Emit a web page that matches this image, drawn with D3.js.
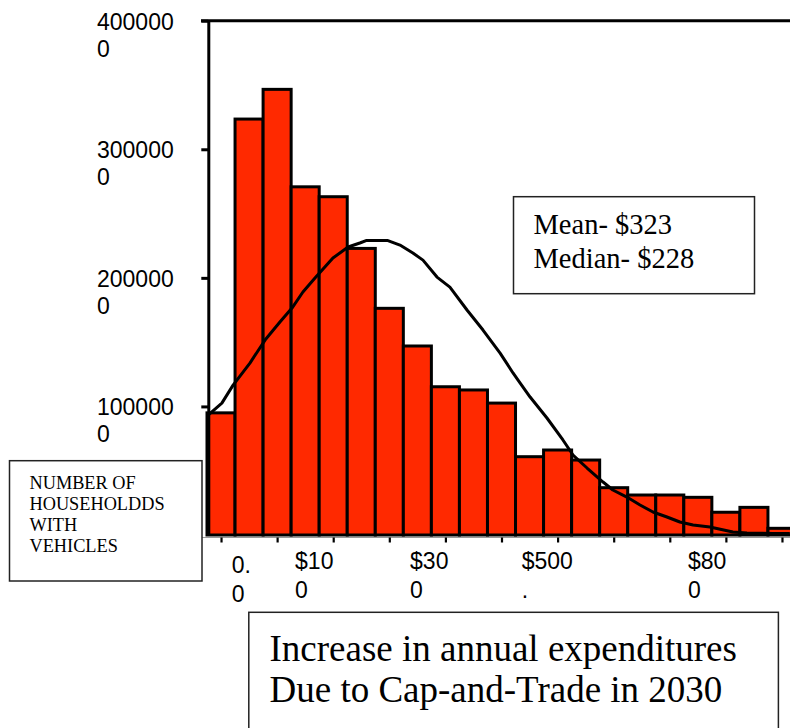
<!DOCTYPE html>
<html><head><meta charset="utf-8">
<script src="https://cdn.jsdelivr.net/npm/d3@7"></script>
<style>body{margin:0;background:#fff}svg{display:block;background:#fff}</style>
</head><body>
<svg id="c" width="790" height="728"></svg>
<script>
// ---- data ----
const households = [950000, 3235000, 3466000, 2708000, 2631000, 2229000, 1763000, 1470000, 1153000, 1128000, 1026000, 609000, 661000, 583000, 368000, 311000, 311000, 293000, 177000, 215000, 52000];
const curveX = [0.04, 0.53, 0.93, 1.53, 2.07, 2.60, 3.03, 3.42, 3.85, 4.49, 5.03, 5.45, 5.67, 6.45, 6.88, 7.34, 7.70, 8.20, 8.66, 9.27, 9.84, 10.45, 10.91, 11.09, 11.52, 12.12, 12.69, 13.05, 13.55, 14.12, 14.47, 14.97, 15.44, 15.90, 16.40, 16.86, 17.33, 17.93, 18.75, 19.25, 20.18, 20.78];
const curveY = [933000, 1026000, 1166000, 1337000, 1516000, 1656000, 1765000, 1890000, 1998000, 2154000, 2240000, 2271000, 2290000, 2290000, 2255000, 2193000, 2138000, 2006000, 1928000, 1750000, 1594000, 1415000, 1260000, 1205000, 1073000, 910000, 739000, 622000, 521000, 412000, 350000, 295000, 233000, 179000, 140000, 101000, 78000, 62000, 23000, 16000, 12000, 12000];
const yTicks = [1000000, 2000000, 3000000, 4000000];
const yTickLabels = [["100000", "0"], ["200000", "0"], ["300000", "0"], ["400000", "0"]];
const xTicks = [0.5, 2.5, 4.5, 6.5, 8.5, 10.5, 12.5, 14.5, 16.5, 18.5, 20.5];
const xLabelPos = [0.88, 3.14, 7.24, 11.22, 17.15];
const xLabels = [["0.", "0"], ["$10", "0"], ["$30", "0"], ["$500", "."], ["$80", "0"]];
const statsLines = ["Mean- $323", "Median- $228"];
const yTitleLines = ["NUMBER OF", "HOUSEHOLDDS", "WITH", "VEHICLES"];
const xTitleLines = ["Increase in annual expenditures", "Due to Cap-and-Trade in 2030"];

// ---- scales ----
const svg = d3.select("#c");
const x = d3.scaleLinear().domain([0, 21]).range([207, 796]);
const y = d3.scaleLinear().domain([0, 4000000]).range([535, 20.7]);
const sans = "'Liberation Sans', Arial, sans-serif";
const serif = "'Liberation Serif', 'Times New Roman', serif";

// bars
svg.append("g").selectAll("rect").data(households).join("rect")
  .attr("x", (d, i) => x(i))
  .attr("width", (d, i) => x(i + 1) - x(i))
  .attr("y", d => y(d))
  .attr("height", d => y(0) - y(d))
  .attr("fill", "#ff2900")
  .attr("stroke", "#000")
  .attr("stroke-width", 3);

// curve
const pts = curveX.map((v, i) => [v, curveY[i]]);
svg.append("path").datum(pts)
  .attr("fill", "none").attr("stroke", "#000").attr("stroke-width", 3)
  .attr("stroke-linejoin", "round")
  .attr("d", d3.line().x(d => x(d[0])).y(d => y(d[1])));

// x axis
const xa = svg.append("g").attr("transform", "translate(0,537.5)")
  .call(d3.axisBottom(x).tickValues(xTicks).tickSize(5).tickSizeOuter(0).tickFormat(""));
xa.select(".domain").attr("stroke", "#999").attr("stroke-width", 1);
xa.selectAll(".tick line").attr("stroke", "#000").attr("stroke-width", 2.2);
xa.select(".domain").attr("d", "M200,0H790");

// y axis
const ya = svg.append("g").attr("transform", "translate(208.3,0)")
  .call(d3.axisLeft(y).tickValues(yTicks).tickSize(7).tickSizeOuter(0).tickFormat(""));
ya.selectAll("path,line").attr("stroke", "#000").attr("stroke-width", 3);

// top line
svg.append("line").attr("x1", 201).attr("x2", 790).attr("y1", y(4000000)).attr("y2", y(4000000))
  .attr("stroke", "#000").attr("stroke-width", 3);

// y tick labels
yTicks.forEach((t, i) => {
  const tx = svg.append("text").attr("font-family", sans).attr("font-size", 23).attr("fill", "#000");
  yTickLabels[i].forEach((s, j) => {
    tx.append("tspan").attr("x", 97).attr("y", y(t) + 9 + j * 27).text(s);
  });
});

// x tick labels
xLabelPos.forEach((p, i) => {
  const off = i === 0 ? 4 : 0;
  const tx = svg.append("text").attr("font-family", sans).attr("font-size", 23).attr("fill", "#000");
  xLabels[i].forEach((s, j) => {
    tx.append("tspan").attr("x", x(p)).attr("y", 568.5 + off + j * 29.5).text(s);
  });
});

// stats box
svg.append("rect").attr("x", 513.5).attr("y", 196.7).attr("width", 241).attr("height", 97)
  .attr("fill", "#fff").attr("stroke", "#222").attr("stroke-width", 1.5);
statsLines.forEach((s, i) => {
  svg.append("text").attr("x", 533.5).attr("y", 234.3 + i * 34)
    .attr("font-family", serif).attr("font-size", 28.5).attr("fill", "#000").text(s);
});

// y title box
svg.append("rect").attr("x", 9.5).attr("y", 460.7).attr("width", 192.5).attr("height", 120.3)
  .attr("fill", "#fff").attr("stroke", "#222").attr("stroke-width", 1.5);
yTitleLines.forEach((s, i) => {
  svg.append("text").attr("x", 29.5).attr("y", 489.3 + i * 20.8)
    .attr("font-family", serif).attr("font-size", 18.3).attr("fill", "#000").text(s);
});

// x title box
svg.append("rect").attr("x", 248.8).attr("y", 612.3).attr("width", 529.6).attr("height", 140)
  .attr("fill", "#fff").attr("stroke", "#222").attr("stroke-width", 1.5);
xTitleLines.forEach((s, i) => {
  svg.append("text").attr("x", 269.5).attr("y", 660.5 + i * 41.3)
    .attr("font-family", serif).attr("font-size", 37).attr("fill", "#000").text(s);
});
</script>
</body></html>
